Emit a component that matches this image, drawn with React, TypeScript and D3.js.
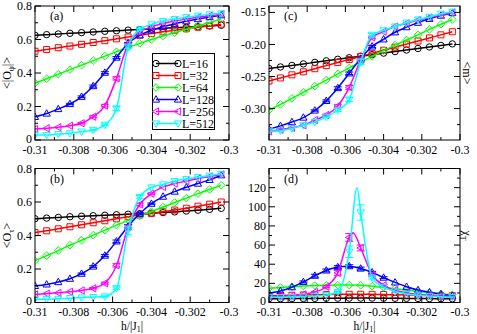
import React from 'react';
import * as d3 from 'd3';

// ---------- data ----------
const H = [-0.31, -0.3094, -0.3088, -0.3082, -0.3076, -0.307, -0.3064, -0.3058, -0.3052, -0.3046, -0.304, -0.3034, -0.3028, -0.3022, -0.3016, -0.301, -0.3004];
const SERIES_LABELS = ['L=16', 'L=32', 'L=64', 'L=128', 'L=256', 'L=512'];

// (a) <|O_psi|>
const opsiL16 = [0.625, 0.629, 0.633, 0.637, 0.641, 0.645, 0.649, 0.652, 0.656, 0.659, 0.663, 0.666, 0.670, 0.673, 0.677, 0.681, 0.685];
const opsiL32 = [0.530, 0.540, 0.551, 0.561, 0.571, 0.582, 0.593, 0.604, 0.615, 0.626, 0.636, 0.646, 0.655, 0.664, 0.673, 0.682, 0.691];
const opsiL64 = [0.340, 0.366, 0.393, 0.420, 0.447, 0.474, 0.501, 0.527, 0.553, 0.577, 0.600, 0.621, 0.641, 0.661, 0.681, 0.701, 0.722];
const opsiL128 = [0.138, 0.158, 0.185, 0.215, 0.258, 0.322, 0.402, 0.492, 0.578, 0.625, 0.655, 0.676, 0.694, 0.709, 0.722, 0.734, 0.745];
const opsiL256 = [0.066, 0.070, 0.076, 0.085, 0.100, 0.139, 0.205, 0.368, 0.572, 0.645, 0.675, 0.695, 0.710, 0.722, 0.733, 0.742, 0.750];
const opsiL512 = [0.030, 0.030, 0.036, 0.040, 0.050, 0.060, 0.090, 0.188, 0.557, 0.660, 0.690, 0.710, 0.722, 0.733, 0.742, 0.750, 0.756];
const opsiErr128 = [0, 0, 0, 0.004, 0.005, 0.006, 0.006, 0.006, 0.004, 0, 0, 0, 0, 0, 0, 0, 0];
const opsiErr256 = [0, 0, 0, 0, 0.004, 0.006, 0.008, 0.010, 0.006, 0, 0, 0, 0, 0, 0, 0, 0];
const opsiErr512 = [0, 0, 0, 0, 0, 0.004, 0.005, 0.012, 0.010, 0.004, 0, 0, 0, 0, 0, 0, 0];

// (b) <O_tau>
const otauL16 = [0.500, 0.504, 0.508, 0.512, 0.515, 0.518, 0.521, 0.524, 0.527, 0.530, 0.533, 0.537, 0.541, 0.546, 0.551, 0.556, 0.562];
const otauL32 = [0.417, 0.428, 0.440, 0.452, 0.464, 0.476, 0.488, 0.500, 0.512, 0.522, 0.532, 0.542, 0.552, 0.563, 0.575, 0.587, 0.600];
const otauL64 = [0.250, 0.280, 0.310, 0.342, 0.372, 0.402, 0.432, 0.462, 0.490, 0.517, 0.543, 0.570, 0.597, 0.623, 0.650, 0.675, 0.700];
const otauL128 = [0.099, 0.108, 0.122, 0.142, 0.172, 0.215, 0.280, 0.365, 0.455, 0.530, 0.590, 0.632, 0.662, 0.688, 0.710, 0.732, 0.760];
const otauL256 = [0.048, 0.053, 0.058, 0.064, 0.072, 0.085, 0.115, 0.222, 0.450, 0.585, 0.650, 0.690, 0.710, 0.725, 0.740, 0.752, 0.765];
const otauL512 = [0.020, 0.020, 0.022, 0.026, 0.030, 0.032, 0.036, 0.085, 0.430, 0.630, 0.687, 0.705, 0.725, 0.737, 0.748, 0.757, 0.768];
const otauErr128 = [0, 0, 0, 0, 0.004, 0.005, 0.006, 0.008, 0.010, 0.006, 0.004, 0, 0, 0, 0, 0, 0];
const otauErr256 = [0, 0, 0, 0, 0, 0.004, 0.006, 0.010, 0.012, 0.008, 0.004, 0, 0, 0, 0, 0, 0];
const otauErr512 = [0, 0, 0, 0, 0, 0, 0.004, 0.008, 0.025, 0.008, 0, 0, 0, 0, 0, 0, 0];

// (c) <m>
const mL16 = [-0.2375, -0.2351, -0.2327, -0.2303, -0.2279, -0.2255, -0.2231, -0.2207, -0.2183, -0.2159, -0.2135, -0.2111, -0.2087, -0.2063, -0.2039, -0.2015, -0.1991];
const mL32 = [-0.257, -0.2522, -0.2474, -0.2426, -0.2378, -0.233, -0.2282, -0.2234, -0.2186, -0.2138, -0.209, -0.2042, -0.1994, -0.1946, -0.1898, -0.185, -0.1802];
const mL64 = [-0.3025, -0.2935, -0.284, -0.2745, -0.265, -0.2555, -0.246, -0.2365, -0.2275, -0.2185, -0.2095, -0.201, -0.193, -0.185, -0.1765, -0.1685, -0.161];
const mL128 = [-0.332, -0.327, -0.321, -0.314, -0.303, -0.288, -0.268, -0.245, -0.222, -0.203, -0.192, -0.181, -0.173, -0.166, -0.16, -0.155, -0.151];
const mL256 = [-0.3355, -0.333, -0.33, -0.326, -0.318, -0.31, -0.296, -0.267, -0.224, -0.189, -0.18, -0.172, -0.167, -0.162, -0.158, -0.154, -0.15];
const mL512 = [-0.3355, -0.3345, -0.331, -0.326, -0.321, -0.313, -0.3026, -0.286, -0.227, -0.185, -0.178, -0.172, -0.166, -0.161, -0.157, -0.152, -0.149];
const mErr128 = [0, 0, 0, 0, 0.001, 0.0015, 0.002, 0.002, 0.002, 0.0015, 0, 0, 0, 0, 0, 0, 0];
const mErr256 = [0, 0, 0, 0, 0, 0.0015, 0.002, 0.003, 0.003, 0.002, 0, 0, 0, 0, 0, 0, 0];
const mErr512 = [0, 0, 0, 0, 0, 0.001, 0.002, 0.003, 0.004, 0.002, 0, 0, 0, 0, 0, 0, 0];

// (d) chi_T
const chiL16 = [3.9, 4.0, 4.1, 4.2, 4.3, 4.4, 4.5, 4.6, 4.6, 4.6, 4.5, 4.4, 4.3, 4.2, 4.1, 4.0, 3.9];
const chiL32 = [7.0, 7.3, 7.6, 7.9, 8.1, 8.3, 8.5, 8.6, 8.6, 8.5, 8.3, 8.1, 7.9, 7.7, 7.5, 7.3, 7.1];
const chiL64 = [14.8, 15.7, 16.5, 17.2, 17.7, 18.0, 18.2, 18.2, 17.9, 17.0, 15.8, 14.5, 13.0, 11.6, 10.3, 9.1, 8.0];
const chiL128 = [9.7, 12.0, 16.0, 21.5, 28.0, 33.5, 37.0, 38.0, 35.5, 31.5, 26.0, 21.0, 16.5, 13.0, 10.7, 8.7, 7.2];
const chiL256 = [6.0, 6.3, 7.0, 8.5, 11.0, 16.5, 31.0, 68.0, 57.0, 29.0, 18.0, 13.0, 10.0, 8.5, 7.5, 6.8, 6.2];
const chiL512 = [5.5, 5.6, 5.8, 6.2, 6.8, 7.8, 11.0, 53.0, 94.0, 26.0, 16.0, 11.5, 9.0, 7.5, 6.5, 6.0, 5.5];
const chiErr128 = [0, 0, 0, 1.0, 1.5, 1.5, 1.5, 1.5, 1.5, 1.0, 1.0, 0, 0, 0, 0, 0, 0];
const chiErr256 = [0, 0, 0, 0, 0, 1.0, 2.5, 4.0, 3.0, 2.0, 1.0, 0, 0, 0, 0, 0, 0];
const chiErr512 = [0, 0, 0, 0, 0, 0, 1.0, 6.0, 8.0, 1.5, 0, 0, 0, 0, 0, 0, 0];
// peak of the fitted curves in (d)
const chiPeakH256 = [-0.3056];
const chiPeakV256 = [73];
const chiPeakH512 = [-0.30539];
const chiPeakV512 = [120];

// ticks
const X_TICKS = [-0.31, -0.308, -0.306, -0.304, -0.302, -0.3];
const X_TICK_LABELS = ['-0.31', '-0.308', '-0.306', '-0.304', '-0.302', '-0.3'];
const X_MINOR = [-0.309, -0.307, -0.305, -0.303, -0.301];
const O_TICKS = [0, 0.2, 0.4, 0.6, 0.8];
const O_TICK_LABELS = ['0', '0.2', '0.4', '0.6', '0.8'];
const O_MINOR = [0.1, 0.3, 0.5, 0.7];
const M_TICKS = [-0.3, -0.25, -0.2, -0.15];
const M_TICK_LABELS = ['-0.30', '-0.25', '-0.20', '-0.15'];
const M_MINOR = [-0.325, -0.275, -0.225, -0.175];
const CHI_TICKS = [0, 20, 40, 60, 80, 100, 120];
const CHI_TICK_LABELS = ['0', '20', '40', '60', '80', '100', '120'];
const CHI_MINOR = [10, 30, 50, 70, 90, 110, 130];

const COLORS = ['#000000', '#ff0000', '#00ff00', '#0000ff', '#ff00ff', '#00ffff'];
const SYMBOLS = ['circle', 'square', 'diamond', 'up', 'left', 'down'];
const FONT = "'Liberation Serif', 'Times New Roman', serif";

function symbolPath(type: string, cx: number, cy: number): string {
  const p = d3.path();
  if (type === 'circle') {
    p.moveTo(cx + 3.2, cy);
    p.arc(cx, cy, 3.2, 0, Math.PI * 2);
  } else if (type === 'square') {
    p.rect(cx - 3, cy - 3, 6, 6);
  } else if (type === 'diamond') {
    p.moveTo(cx, cy - 3.8); p.lineTo(cx + 3.8, cy); p.lineTo(cx, cy + 3.8); p.lineTo(cx - 3.8, cy); p.closePath();
  } else if (type === 'up') {
    p.moveTo(cx, cy - 3.8); p.lineTo(cx + 3.6, cy + 2.6); p.lineTo(cx - 3.6, cy + 2.6); p.closePath();
  } else if (type === 'left') {
    p.moveTo(cx - 3.8, cy); p.lineTo(cx + 2.6, cy - 3.6); p.lineTo(cx + 2.6, cy + 3.6); p.closePath();
  } else {
    p.moveTo(cx, cy + 3.8); p.lineTo(cx + 3.6, cy - 2.6); p.lineTo(cx - 3.6, cy - 2.6); p.closePath();
  }
  return p.toString();
}

type PanelProps = {
  id: string;
  left: number; top: number; width: number; height: number;
  yDomain: [number, number];
  yTicks: number[]; yTickLabels: string[]; yMinor: number[];
  series: number[][];
  errs: (number[] | null)[];
  peaks?: ({ h: number[]; v: number[] } | null)[];
  tag: string;
  legend?: boolean;
};

function Panel(p: PanelProps) {
  const x = d3.scaleLinear().domain([-0.31, -0.3]).range([p.left, p.left + p.width]);
  const y = d3.scaleLinear().domain(p.yDomain).range([p.top + p.height, p.top]);
  const line = d3.line<[number, number]>().x(d => x(d[0])).y(d => y(d[1])).curve(d3.curveMonotoneX);
  const right = p.left + p.width;
  const bottom = p.top + p.height;
  const ticks: JSX.Element[] = [];
  X_TICKS.forEach((t, i) => {
    const xx = x(t);
    ticks.push(<line key={'xb' + i} x1={xx} x2={xx} y1={bottom} y2={bottom - 6} />);
    ticks.push(<line key={'xt' + i} x1={xx} x2={xx} y1={p.top} y2={p.top + 6} />);
  });
  X_MINOR.forEach((t, i) => {
    const xx = x(t);
    ticks.push(<line key={'xbm' + i} x1={xx} x2={xx} y1={bottom} y2={bottom - 3} />);
    ticks.push(<line key={'xtm' + i} x1={xx} x2={xx} y1={p.top} y2={p.top + 3} />);
  });
  p.yTicks.forEach((t, i) => {
    const yy = y(t);
    ticks.push(<line key={'yl' + i} x1={p.left} x2={p.left + 6} y1={yy} y2={yy} />);
    ticks.push(<line key={'yr' + i} x1={right} x2={right - 6} y1={yy} y2={yy} />);
  });
  p.yMinor.forEach((t, i) => {
    const yy = y(t);
    if (yy < p.top - 0.5) return;
    ticks.push(<line key={'ylm' + i} x1={p.left} x2={p.left + 3} y1={yy} y2={yy} />);
    ticks.push(<line key={'yrm' + i} x1={right} x2={right - 3} y1={yy} y2={yy} />);
  });

  return (
    <g>
      <defs>
        <clipPath id={'clip' + p.id}>
          <rect x={p.left} y={p.top} width={p.width} height={p.height} />
        </clipPath>
      </defs>
      <g clipPath={`url(#clip${p.id})`}>
        {p.series.map((vals, si) => {
          let pts: [number, number][] = H.map((h, k) => [h, vals[k]] as [number, number]);
          const pk = p.peaks ? p.peaks[si] : null;
          if (pk) {
            pk.h.forEach((h, j) => pts.push([h, pk.v[j]]));
            pts = pts.sort((a, b) => a[0] - b[0]);
          }
          const err = p.errs[si];
          return (
            <g key={si}>
              <path d={line(pts) || ''} fill="none" stroke={COLORS[si]} strokeWidth={1.5} />
              {err && H.map((h, k) => err[k] > 0 ? (
                <g key={'e' + k} stroke={COLORS[si]} strokeWidth={1}>
                  <line x1={x(h)} x2={x(h)} y1={y(vals[k] - err[k])} y2={y(vals[k] + err[k])} />
                  <line x1={x(h) - 4} x2={x(h) + 4} y1={y(vals[k] - err[k])} y2={y(vals[k] - err[k])} />
                  <line x1={x(h) - 4} x2={x(h) + 4} y1={y(vals[k] + err[k])} y2={y(vals[k] + err[k])} />
                </g>
              ) : null)}
              {H.map((h, k) => (
                <path key={'m' + k} d={symbolPath(SYMBOLS[si], x(h), y(vals[k]))} fill="none" stroke={COLORS[si]} strokeWidth={1} />
              ))}
            </g>
          );
        })}
      </g>
      <g stroke="#000" strokeWidth={1}>{ticks}</g>
      <rect x={p.left} y={p.top} width={p.width} height={p.height} fill="none" stroke="#000" strokeWidth={1} />
      <g fontFamily={FONT} fontSize={12} fill="#000">
        {X_TICKS.map((t, i) => (
          <text key={'xl' + i} x={x(t)} y={bottom + 13.5} textAnchor="middle">{X_TICK_LABELS[i]}</text>
        ))}
        {p.yTicks.map((t, i) => (
          <text key={'yl' + i} x={p.left - 3} y={y(t) - (t === 0 ? 1.5 : 0)} dy="0.34em" textAnchor="end">{p.yTickLabels[i]}</text>
        ))}
        <text x={p.left + 15} y={p.top + 14}>{p.tag}</text>
      </g>
      {p.legend && (
        <g fontFamily={FONT} fontSize={12}>
          <rect x={152.5} y={53.5} width={62} height={76} fill="#fff" stroke="#000" strokeWidth={1} />
          {SERIES_LABELS.map((lab, i) => {
            const yy = 63.5 + 12 * i;
            return (
              <g key={lab}>
                <line x1={156} x2={178} y1={yy} y2={yy} stroke={COLORS[i]} strokeWidth={1.5} />
                <path d={symbolPath(SYMBOLS[i], 156, yy)} fill="none" stroke={COLORS[i]} />
                <path d={symbolPath(SYMBOLS[i], 178, yy)} fill="none" stroke={COLORS[i]} />
                <text x={182} y={yy} dy="0.36em">{lab}</text>
              </g>
            );
          })}
        </g>
      )}
    </g>
  );
}

export default function App() {
  const L = 35, R = 269, W1 = 194, W2 = 191, T1 = 6, T2 = 168.5, HH = 134;
  return (
    <svg width={477} height={334} style={{ position: 'absolute', left: 0, top: 0, background: '#fff' }}>
      <Panel id="a" left={L} top={T1} width={W1} height={HH} yDomain={[0, 0.8]}
        yTicks={O_TICKS} yTickLabels={O_TICK_LABELS} yMinor={O_MINOR}
        series={[opsiL16, opsiL32, opsiL64, opsiL128, opsiL256, opsiL512]}
        errs={[null, null, null, opsiErr128, opsiErr256, opsiErr512]} tag="(a)" legend />
      <Panel id="b" left={L} top={T2} width={W1} height={HH} yDomain={[0, 0.8]}
        yTicks={O_TICKS} yTickLabels={O_TICK_LABELS} yMinor={O_MINOR}
        series={[otauL16, otauL32, otauL64, otauL128, otauL256, otauL512]}
        errs={[null, null, null, otauErr128, otauErr256, otauErr512]} tag="(b)" />
      <Panel id="c" left={R} top={T1} width={W2} height={HH} yDomain={[-0.349, -0.14]}
        yTicks={M_TICKS} yTickLabels={M_TICK_LABELS} yMinor={M_MINOR}
        series={[mL16, mL32, mL64, mL128, mL256, mL512]}
        errs={[null, null, null, mErr128, mErr256, mErr512]} tag="(c)" />
      <Panel id="d" left={R} top={T2} width={W2} height={HH} yDomain={[0, 140]}
        yTicks={CHI_TICKS} yTickLabels={CHI_TICK_LABELS} yMinor={CHI_MINOR}
        series={[chiL16, chiL32, chiL64, chiL128, chiL256, chiL512]}
        errs={[null, null, null, chiErr128, chiErr256, chiErr512]}
        peaks={[null, null, null, null, { h: chiPeakH256, v: chiPeakV256 }, { h: chiPeakH512, v: chiPeakV512 }]}
        tag="(d)" />
      <g fontFamily={FONT} fontSize={12} fill="#000">
        <text transform={`translate(11,${T1 + HH / 2}) rotate(-90)`} textAnchor="middle">
          {'<|O'}<tspan fontSize={8} dy={3}>ψ</tspan><tspan dy={-3}>{'|>'}</tspan>
        </text>
        <text transform={`translate(11,${T2 + HH / 2}) rotate(-90)`} textAnchor="middle">
          {'<O'}<tspan fontSize={8} dy={3}>τ</tspan><tspan dy={-3}>{'>'}</tspan>
        </text>
        <text transform={`translate(463,${T1 + HH / 2}) rotate(90)`} textAnchor="middle">{'<m>'}</text>
        <text transform={`translate(463,${T2 + HH / 2}) rotate(90)`} textAnchor="middle">
          {'χ'}<tspan fontSize={8} dy={3}>T</tspan>
        </text>
        <text x={L + W1 / 2} y={329.5} textAnchor="middle" fontSize={11.5}>
          {'h/|J'}<tspan fontSize={8} dy={2.5}>1</tspan><tspan dy={-2.5}>{'|'}</tspan>
        </text>
        <text x={R + W2 / 2} y={329.5} textAnchor="middle" fontSize={11.5}>
          {'h/|J'}<tspan fontSize={8} dy={2.5}>1</tspan><tspan dy={-2.5}>{'|'}</tspan>
        </text>
      </g>
    </svg>
  );
}
